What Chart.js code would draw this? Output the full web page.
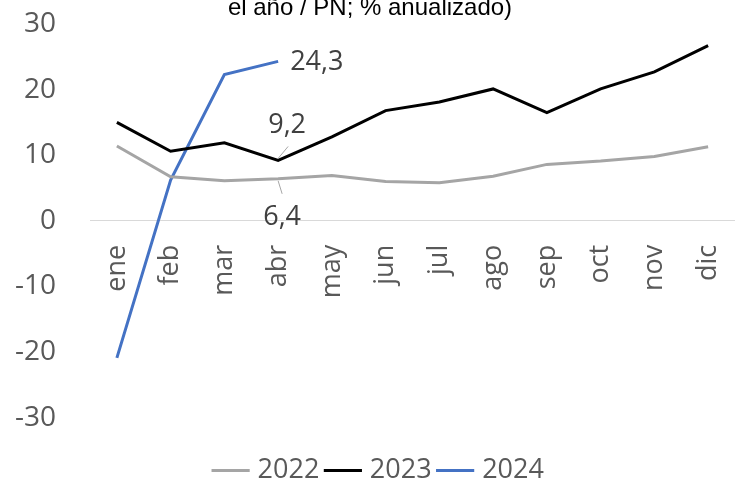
<!DOCTYPE html>
<html>
<head>
<meta charset="utf-8">
<script src="https://cdn.jsdelivr.net/npm/chart.js@4.4.0/dist/chart.umd.min.js"></script>
<style>
  html, body { margin: 0; padding: 0; background: #fff; overflow: hidden; }
  #wrap { width: 735px; height: 494px; }
</style>
</head>
<body>
<div id="wrap"><canvas id="chart"></canvas></div>
<script>
const months = ['ene', 'feb', 'mar', 'abr', 'may', 'jun', 'jul', 'ago', 'sep', 'oct', 'nov', 'dic'];
const values2022 = [11.4, 6.7, 6.1, 6.4, 6.9, 6.0, 5.8, 6.8, 8.6, 9.1, 9.8, 11.3];
const values2023 = [15.0, 10.6, 11.9, 9.2, 12.8, 16.8, 18.1, 20.1, 16.5, 20.1, 22.7, 26.7];
const values2024 = [-20.9, 6.2, 22.3, 24.3];
const yTicks = [-30, -20, -10, 0, 10, 20, 30];

// value labels shown on the chart: dataset index, point index, text offset, leader line
const pointLabels = [
    { ds: 2, i: 3, dx: 12, dy: 1, align: 'left', lead: null },
    { ds: 1, i: 3, dx: 9, dy: -35, align: 'center', lead: [0, -2, 10, -14] },
    { ds: 0, i: 3, dx: 4, dy: 38, align: 'center', lead: [0, 2, 4, 15] }
];

const labelPlugin = {
    id: 'labelPlugin',
    afterLayout(chart) {
        // legend sits a bit right of centre in the original
        chart.legend.left += 13;
        chart.legend.right += 13;
    },
    afterDatasetsDraw(chart) {
        const ctx = chart.ctx;
        ctx.save();
        // title (cut off at the top in the original)
        ctx.font = '24px "Liberation Sans", Arial, sans-serif';
        ctx.fillStyle = '#000';
        ctx.textAlign = 'center';
        ctx.textBaseline = 'alphabetic';
        ctx.fillText('el año / PN; % anualizado)', 370, 15);

        ctx.font = '27px "Open Sans", sans-serif';
        ctx.fillStyle = '#404040';
        ctx.textBaseline = 'middle';
        pointLabels.forEach(l => {
            const pt = chart.getDatasetMeta(l.ds).data[l.i];
            if (l.lead) {
                ctx.strokeStyle = '#a6a6a6';
                ctx.lineWidth = 1;
                ctx.beginPath();
                ctx.moveTo(pt.x + l.lead[0], pt.y + l.lead[1]);
                ctx.lineTo(pt.x + l.lead[2], pt.y + l.lead[3]);
                ctx.stroke();
            }
            ctx.textAlign = l.align;
            const v = chart.data.datasets[l.ds].data[l.i];
            ctx.fillText(v.toFixed(1).replace('.', ','), pt.x + l.dx, pt.y + l.dy);
        });
        ctx.restore();
    }
};

new Chart(document.getElementById('chart').getContext('2d'), {
    type: 'line',
    data: {
        labels: months,
        datasets: [
            { label: '2022', data: values2022, borderColor: '#a5a5a5', backgroundColor: '#a5a5a5', borderWidth: 3 },
            { label: '2023', data: values2023, borderColor: '#000000', backgroundColor: '#000000', borderWidth: 3 },
            { label: '2024', data: values2024, borderColor: '#4472c4', backgroundColor: '#4472c4', borderWidth: 3 }
        ]
    },
    options: {
        responsive: true,
        maintainAspectRatio: false,
        animation: false,
        elements: {
            point: { radius: 0 },
            line: { tension: 0 }
        },
        layout: {
            padding: { top: 24, left: 0, right: 0, bottom: 0 }
        },
        scales: {
            x: {
                position: { y: 0 },
                offset: true,
                afterFit(scale) {
                    scale.paddingLeft = 0;
                    scale.paddingRight = 0;
                    scale.paddingTop = 0;
                    scale.paddingBottom = 0;
                },
                grid: { display: false },
                border: { display: true, color: '#d9d9d9', width: 1 },
                ticks: {
                    minRotation: 90,
                    maxRotation: 90,
                    color: '#595959',
                    padding: 16,
                    font: { family: '"Open Sans", sans-serif', size: 27 }
                }
            },
            y: {
                min: -30,
                max: 30,
                afterBuildTicks(scale) {
                    scale.ticks = yTicks.map(v => ({ value: v }));
                },
                afterFit(scale) {
                    scale.width = 90;
                    scale.paddingTop = 0;
                    scale.paddingBottom = 0;
                },
                grid: { display: false, drawTicks: false },
                border: { display: false },
                ticks: {
                    color: '#595959',
                    padding: 34,
                    font: { family: '"Open Sans", sans-serif', size: 28 }
                }
            }
        },
        plugins: {
            legend: {
                position: 'bottom',
                title: {
                    display: true,
                    text: ' ',
                    font: { size: 2 },
                    padding: { top: 27, bottom: 0 }
                },
                labels: {
                    usePointStyle: true,
                    pointStyle: 'line',
                    boxWidth: 28,
                    padding: 10,
                    color: '#595959',
                    font: { family: '"Open Sans", sans-serif', size: 27 }
                }
            },
            tooltip: { enabled: false }
        }
    },
    plugins: [labelPlugin]
});
</script>
</body>
</html>
